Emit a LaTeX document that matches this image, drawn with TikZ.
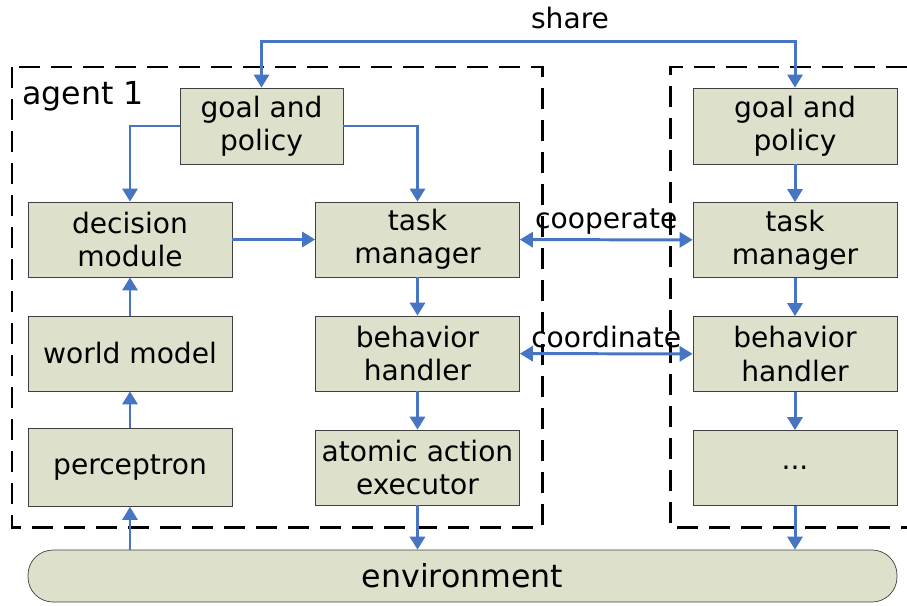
\documentclass[tikz,border=0pt]{standalone}
\usepackage{fontspec}
\setmainfont{DejaVu Sans}
\usetikzlibrary{arrows.meta}
\definecolor{boxfill}{RGB}{221,225,203}
\definecolor{boxline}{RGB}{64,64,64}
\definecolor{linkblue}{RGB}{70,117,196}
\tikzstyle{module} = [rectangle, minimum width=4.08cm, minimum height=1.5cm, text centered, align=center, draw=boxline, fill=boxfill, font=\fontsize{16}{19}\selectfont]
\tikzstyle{world} = [rectangle, rounded corners=0.5cm, minimum width=17.38cm, minimum height=1.04cm, draw=boxline, fill=boxfill, font=\fontsize{18}{21}\selectfont]
\tikzstyle{agentbox} = [line width=1.7pt, dash pattern=on 0.42cm off 0.22cm]
\tikzstyle{label} = [font=\fontsize{16}{19}\selectfont, inner sep=1pt]
\tikzstyle{arrow} = [draw=linkblue, line width=1.7pt, -{Triangle[length=0.26cm, width=0.3cm]}]
\tikzstyle{biarrow} = [draw=linkblue, line width=1.7pt, {Triangle[length=0.26cm, width=0.3cm]}-{Triangle[length=0.26cm, width=0.3cm]}]

\begin{document}
\begin{tikzpicture}[node distance = 2.28cm]
        \useasboundingbox (0,0) rectangle (18.14,-12.10);

            % agent 1
            \draw [agentbox] (0.24,-1.34) rectangle (10.84,-10.54);
            \node (agentlbl) [font=\fontsize{18}{21}\selectfont] at (1.66,-1.92) {agent 1};

            \node (goal1) [module, minimum width=3.26cm, minimum height=1.52cm] at (5.23,-2.52) {goal and\\policy};

            \node (decision) [module] at (2.6,-4.79) {decision\\module};

            \node (world) [module, below of=decision] {world model};

            \node (perceptron) [module, below of=world, minimum height=1.56cm] {perceptron};

            \node (task1) [module] at (8.35,-4.79) {task\\manager};

            \node (behavior1) [module, below of=task1] {behavior\\handler};

            \node (atomic) [module, below of=behavior1] {atomic action\\executor};

            % agent 2
            \draw [agentbox] (18.14,-1.34) -- (13.4,-1.34) -- (13.4,-10.54) -- (18.14,-10.54);

            \node (goal2) [module, minimum height=1.52cm] at (15.9,-2.52) {goal and\\policy};

            \node (task2) [module, below of=goal2] {task\\manager};

            \node (behavior2) [module, below of=task2] {behavior\\handler};

            \node (dots) [module, below of=behavior2] {...};

            \node (env) [world] at (9.25,-11.52) {environment};

            \node (sharelbl) [label] at (11.4,-0.36) {share};


            \draw [biarrow] (goal1.north) -- ++(0,0.92) -| (goal2.north);
            \draw [arrow] (goal1.west) -| (decision);
            \draw [arrow] (goal1.east) -| (task1);
            \draw [arrow] (decision) -- (task1);
            \draw [arrow] (world) -- (decision);
            \draw [arrow] (perceptron) -- (world);
            \draw [arrow] (perceptron |- env.north) -- (perceptron);
            \draw [arrow] (task1) -- (behavior1);
            \draw [arrow] (behavior1) -- (atomic);
            \draw [arrow] (atomic) -- (atomic |- env.north);
            \draw [arrow] (goal2) -- (task2);
            \draw [arrow] (task2) -- (behavior2);
            \draw [arrow] (behavior2) -- (dots);
            \draw [arrow] (dots) -- (dots |- env.north);
            \draw [biarrow] (task1) -- node[label, above=0.05cm] {cooperate} (task2);
            \draw [biarrow] (behavior1) -- node[label, above=0.05cm] {coordinate} (behavior2);

        \end{tikzpicture}
\end{document}
